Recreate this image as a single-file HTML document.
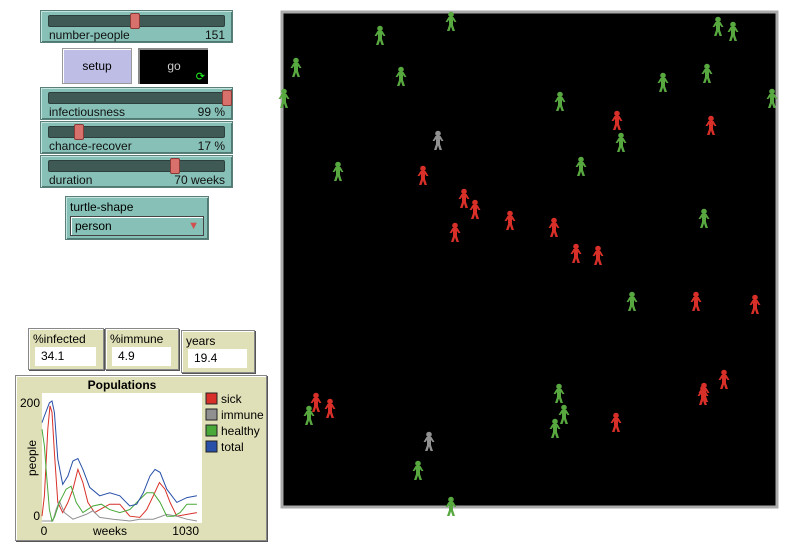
<!DOCTYPE html>
<html><head><meta charset="utf-8"><style>
body{margin:0;width:806px;height:552px;background:#fff;font-family:"Liberation Sans",sans-serif;position:relative;overflow:hidden}
.abs{position:absolute;box-sizing:border-box}
.slider{background:#86c0b6;border:1px solid #5a7f79;box-shadow:inset 1px 1px 0 #c4e4df, inset -1px -1px 0 #4f7a73;}
.track{position:absolute;left:7px;top:4px;right:7px;height:10px;background:#3f5a55;border:1px solid #2c3f3c;border-radius:2px}
.knob{position:absolute;top:2px;width:8px;height:14px;background:#d8706c;border:1px solid #8a3a36;border-radius:2px}
.lab{position:absolute;left:8px;top:17px;font-size:12px;color:#111}
.val{position:absolute;right:7px;top:17px;font-size:12px;color:#111}
.mon{background:#e0e0b8;border:1px solid #888;box-shadow:inset 1px 1px 0 #fff, 1px 1px 0 #555}
.mon .t{position:absolute;left:4px;top:3px;font-size:12px}
.mon .b{position:absolute;left:6px;top:18px;right:7px;height:19px;background:#fff;font-size:12px;padding:2px 0 0 6px;box-sizing:border-box}
</style></head><body>
<div class="abs slider" style="left:40px;top:10px;width:193px;height:33px"><div class="track"></div><div class="knob" style="left:89px"></div><span class="lab">number-people</span><span class="val">151</span></div>
<div class="abs" style="left:62px;top:48px;width:70px;height:36px;background:#bdbde6;border:1px solid #999;box-shadow:inset 1px 1px 0 #fff;font-size:12px;text-align:center;line-height:34px">setup</div>
<div class="abs" style="left:138px;top:48px;width:70px;height:36px;background:#000;border-top:2px solid #888;border-left:2px solid #888;color:#ccc;font-size:12px;text-align:center;line-height:32px">go<span style="position:absolute;right:3px;bottom:1px;color:#2f2;font-size:11px;line-height:11px">⟳</span></div>
<div class="abs slider" style="left:40px;top:87px;width:193px;height:33px"><div class="track"></div><div class="knob" style="left:181px"></div><span class="lab">infectiousness</span><span class="val">99 %</span></div>
<div class="abs slider" style="left:40px;top:121px;width:193px;height:33px"><div class="track"></div><div class="knob" style="left:33px"></div><span class="lab">chance-recover</span><span class="val">17 %</span></div>
<div class="abs slider" style="left:40px;top:155px;width:193px;height:33px"><div class="track"></div><div class="knob" style="left:129px"></div><span class="lab">duration</span><span class="val">70 weeks</span></div>
<div class="abs slider" style="left:65px;top:196px;width:144px;height:44px"><span style="position:absolute;left:4px;top:3px;font-size:12px">turtle-shape</span><div style="position:absolute;left:4px;top:19px;right:4px;height:20px;background:#86c0b6;border:1px solid #444;box-shadow:inset 1px 1px 0 #fff;font-size:12px;padding:2px 0 0 4px;box-sizing:border-box">person<span style="position:absolute;right:4px;top:3px;color:#d05050;font-size:11px">▼</span></div></div>
<div class="abs mon" style="left:28px;top:328px;width:76px;height:42px"><span class="t">%infected</span><div class="b">34.1</div></div>
<div class="abs mon" style="left:105px;top:328px;width:74px;height:42px"><span class="t">%immune</span><div class="b">4.9</div></div>
<div class="abs mon" style="left:181px;top:330px;width:74px;height:43px"><span class="t">years</span><div class="b">19.4</div></div>
<div class="abs mon" style="left:15px;top:375px;width:252px;height:166px"></div>
<svg class="abs" style="left:0;top:0" width="806" height="552" id="plot">
<text x="122" y="389" font-size="12" font-weight="bold" text-anchor="middle" font-family="Liberation Sans">Populations</text>
<rect x="42" y="393" width="160" height="130" fill="#fff"/>
<text x="40" y="407" font-size="12" text-anchor="end" font-family="Liberation Sans">200</text>
<text x="40" y="520" font-size="12" text-anchor="end" font-family="Liberation Sans">0</text>
<text x="44" y="535" font-size="12" text-anchor="middle" font-family="Liberation Sans">0</text>
<text x="110" y="535" font-size="12" text-anchor="middle" font-family="Liberation Sans">weeks</text>
<text x="199" y="535" font-size="12" text-anchor="end" font-family="Liberation Sans">1030</text>
<text x="36" y="458" font-size="12" text-anchor="middle" font-family="Liberation Sans" transform="rotate(-90 36 458)">people</text>
<g id="series"></g><g id="legend"></g>
<rect x="282" y="12" width="495" height="495" fill="#000" stroke="#aaa" stroke-width="3"/>
<g id="agents"></g>
</svg>
<script>
const sickW=[0,16,38,53,66,82,104,137,171,204,237,270,303,347,403,447,514,580,646,691,735,775,812,846,890,957,1023];
const sickV=[8,42,153,192,181,114,31,14,31,53,86,64,31,14,22,28,28,8,6,19,42,64,53,31,8,11,14];
const immW=[0,71,93,115,148,204,292,336,381,469,580,646,735,824,890,957,1023];
const immV=[0,0,19,33,14,3,11,17,6,3,0,3,3,11,8,3,0];
const healW=[0,16,27,49,66,82,115,159,192,226,270,336,392,447,514,580,646,691,735,780,824,868,912,957,1023];
const healV=[153,125,86,19,0,6,31,53,58,31,14,25,28,19,14,19,36,47,47,31,8,8,14,28,28];
const totW=[0,16,49,66,82,104,137,171,204,237,270,315,381,447,514,580,625,669,713,746,780,824,890,957,1023];
const totV=[164,175,197,200,181,103,61,75,100,104,86,56,42,47,42,25,28,47,75,86,81,53,31,39,42];
const names=["sick","immune","healthy","total"];
const colors=["#d83028","#909090","#48a838","#2850a8"];
const xs=w=>42+w*(156/1030), ys=v=>521-v*0.6;
const NS="http://www.w3.org/2000/svg";
const g=document.getElementById('series');
[[sickW,sickV],[immW,immV],[healW,healV],[totW,totV]].forEach((s,i)=>{
 const p=document.createElementNS(NS,'polyline');
 p.setAttribute('points',s[0].map((w,j)=>xs(w).toFixed(1)+','+ys(s[1][j]).toFixed(1)).join(' '));
 p.setAttribute('fill','none');p.setAttribute('stroke',colors[i]);p.setAttribute('stroke-width','1');
 
 
 g.appendChild(p);
 const lg=document.getElementById('legend');
 const r=document.createElementNS(NS,'rect');
 r.setAttribute('x',206);r.setAttribute('y',393+i*16);r.setAttribute('width',11);r.setAttribute('height',11);
 r.setAttribute('fill',colors[i]);r.setAttribute('stroke','#222');
 
 
 lg.appendChild(r);
 const t=document.createElementNS(NS,'text');
 t.setAttribute('x',221);t.setAttribute('y',403+i*16);t.setAttribute('font-size','12');t.setAttribute('font-family','Liberation Sans');
 t.textContent=names[i];
 
 
 lg.appendChild(t);
});
const green=[[451,20],[380,34],[718,25],[733,30],[296,66],[401,75],[663,81],[707,72],[284,97],[560,100],[772,97],[621,141],[581,165],[338,170],[704,217],[632,300],[559,392],[564,413],[555,427],[309,414],[418,469],[451,505]];
const red=[[617,119],[711,124],[423,174],[464,197],[475,208],[510,219],[455,231],[554,226],[576,252],[598,254],[696,300],[755,303],[316,401],[330,407],[724,378],[704,391],[703,394],[616,421]];
const gray=[[438,139],[429,440]];
const ag=document.getElementById('agents');
[[green,'#58a840'],[red,'#d83028'],[gray,'#909090']].forEach(([arr,c])=>arr.forEach(([x,y0])=>{
 const y=y0+3;
 const p=document.createElementNS(NS,'path');
 p.setAttribute('d',`M${x-2.5},${y-6}h5l3,5h-2l-1.5,-2v5l2,6h-2.5l-1.5,-4.5l-1.5,4.5h-2.5l2,-6v-5l-1.5,2h-2z`);
 p.setAttribute('fill',c);
 
 
 ag.appendChild(p);
 const h=document.createElementNS(NS,'circle');
 h.setAttribute('cx',x);h.setAttribute('cy',y-8.5);h.setAttribute('r',2.8);h.setAttribute('fill',c);
 
 
 ag.appendChild(h);
}));
</script>
</body></html>
